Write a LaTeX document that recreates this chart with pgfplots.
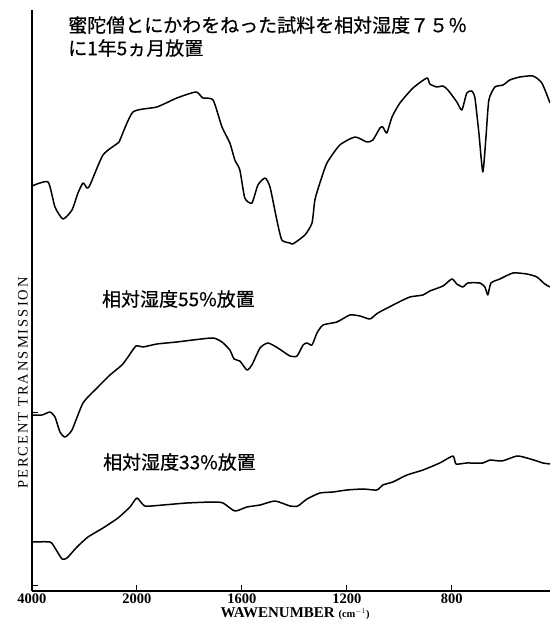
\documentclass[border=0pt]{standalone}
\usepackage{pgfplots}
\pgfplotsset{compat=1.18}
\usepackage{fontspec}
\setmainfont{Liberation Serif}
\newfontfamily\cjk{Noto Sans CJK JP}[FakeBold=0.5]
\newfontfamily\spaced{Liberation Serif}[LetterSpace=14]

% IR spectra: wavenumber (cm^-1) against relative transmission (arbitrary units)
\pgfplotstableread{
w     t
4000  405
3695  409
3562  384
3409  372
3238  381
3124  398
3028  408
2952  403
2895  406
2647  436
2362  448
2324  451
2076  479
1924  484
1848  493
1775  499
1749  493
1710  491
1676  464
1646  448
1627  431
1608  421
1589  393
1562  388
1539  406
1512  413
1493  404
1467  371
1448  351
1417  348
1406  347
1360  356
1333  368
1322  391
1303  408
1276  428
1227  446
1169  454
1124  449
1101  451
1074  463
1063  464
1048  458
1028  474
998   488
948   503
895   513
884   507
857   504
834   505
815   501
781   489
762   481
743   498
724   500
712   493
697   458
682   419
670   454
659   491
636   504
605   506
579   511
541   514
491   515
457   508
426   488
}\rhseventyfive

\pgfplotstableread{
w     t
4000  176
3810  176
3657  179
3562  174
3467  159
3371  154
3238  161
3028  188
2762  203
2514  216
2286  226
2171  234
2019  245
1977  244
1924  247
1848  249
1787  251
1710  253
1676  249
1646  241
1630  232
1608  230
1581  221
1562  226
1531  243
1501  248
1463  243
1417  235
1390  235
1367  246
1352  248
1333  246
1314  258
1291  266
1238  269
1189  276
1150  275
1112  272
1082  278
1009  288
960   294
910   296
884   300
834   305
800   312
781   307
758   304
739   308
693   308
674   304
663   296
651   308
617   312
567   318
514   317
476   314
446   307
426   304
}\rhfiftyfive

\pgfplotstableread{
w     t
4000  49
3657  49
3562  43
3428  32
3333  33
3143  44
2933  54
2647  63
2362  73
2133  84
2000  93
1970  85
1901  86
1810  88
1710  89
1672  88
1627  80
1581  84
1531  86
1474  90
1417  85
1387  85
1352  92
1303  98
1253  99
1200  101
1139  102
1086  101
1063  106
1025  109
971   116
910   121
846   128
796   135
784   127
743   128
682   128
655   131
609   130
552   135
514   133
476   130
453   128
426   127
}\rhthirtythree

\begin{document}
\begin{tikzpicture}
\useasboundingbox (-32pt,-30pt) rectangle (518pt,591pt);
\begin{axis}[
  at={(0pt,0pt)}, anchor=south west,
  scale only axis, width=518pt, height=581pt,
  % grating change at 2000 cm^-1: the scale expands fivefold below it
  x coord trafo/.code={\pgfmathparse{#1>=2000 ? (4000-#1)/2000 : 1+(2000-#1)/400}},
  x coord inv trafo/.code={\pgfmathparse{#1<=1 ? 4000-2000*#1 : 2000-400*(#1-1)}},
  xmin=4000, xmax=426, ymin=0, ymax=581,
  axis x line=bottom, axis y line=left,
  axis line style={-, line width=1.2pt},
  xtick={4000,2000,1600,1200,800},
  xticklabels={4000,2000,1600,1200,800},
  ytick={5,178}, yticklabels={},
  tick align=inside, major tick length=6pt,
  tick style={line width=1pt, black},
  xticklabel style={font=\bfseries\fontsize{14.5}{14.5}\selectfont, anchor=center, inner sep=0pt, yshift=-7.5pt},
  xlabel={WAWENUMBER {\fontsize{10.5}{10.5}\selectfont(cm$^{-1}$)}},
  xlabel style={font=\bfseries\fontsize{15}{15}\selectfont, at={(axis description cs:0.508,0)}, anchor=center, inner sep=0pt, yshift=-22.5pt},
  ylabel={PERCENT TRANSMISSION},
  ylabel style={font=\spaced\fontsize{14.5}{14.5}\selectfont, at={(axis description cs:-0.0174,0.358)}, anchor=center},
  spectrum/.style={black, no markers, line width=1.5pt, line join=round, smooth, tension=0.35},
]
\addplot[spectrum] table[x=w, y=t] {\rhseventyfive};
\addplot[spectrum] table[x=w, y=t] {\rhfiftyfive};
\addplot[spectrum] table[x=w, y=t] {\rhthirtythree};

\node[anchor=west, font=\cjk\fontsize{19}{19}\selectfont, inner sep=0pt] at (rel axis cs:0.0695,0.974) {蜜陀僧とにかわをねった試料を相対湿度７５％};
\node[anchor=west, font=\cjk\fontsize{19}{19}\selectfont, inner sep=0pt] at (rel axis cs:0.0695,0.9346) {に1年5ヵ月放置};
\node[anchor=west, font=\cjk\fontsize{19}{19}\selectfont, inner sep=0pt] at (rel axis cs:0.135,0.5026) {相対湿度55\%放置};
\node[anchor=west, font=\cjk\fontsize{19}{19}\selectfont, inner sep=0pt] at (rel axis cs:0.137,0.222) {相対湿度33\%放置};
\end{axis}
\end{tikzpicture}
\end{document}
